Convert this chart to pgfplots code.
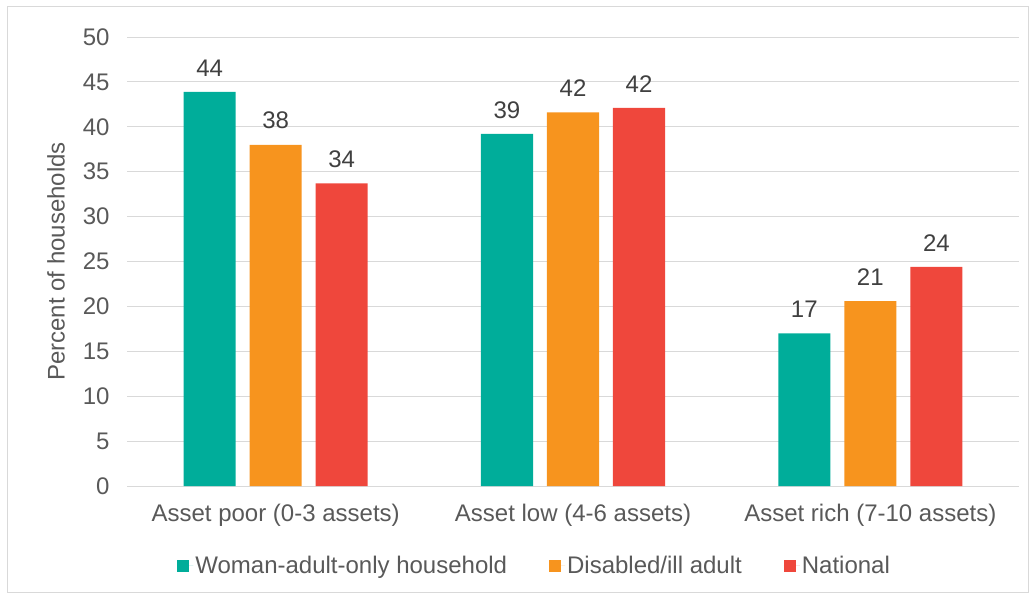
\documentclass[border=0pt]{standalone}
\usepackage{pgfplots}
\pgfplotsset{compat=1.18}
\usepackage{fontspec}
\setmainfont{Liberation Sans}
\definecolor{cteal}{RGB}{0,173,154}
\definecolor{corange}{RGB}{247,148,30}
\definecolor{cred}{RGB}{239,71,60}
\definecolor{ctext}{RGB}{89,89,89}
\definecolor{cval}{RGB}{64,64,64}
\definecolor{cgrid}{RGB}{217,217,217}
\begin{document}
\begin{tikzpicture}
\path (0pt,0pt) rectangle (1035pt,598pt);
\draw[cgrid, line width=1pt] (7pt,6pt) rectangle (1028pt,591pt);
\begin{axis}[
  at={(127pt,112pt)}, anchor=south west,
  scale only axis, width=892pt, height=449pt,
  xmin=-0.5, xmax=2.5, ymin=0, ymax=50,
  ytick={0,5,...,50},
  xtick={0,1,2},
  xticklabels={Asset poor (0-3 assets),Asset low (4-6 assets),Asset rich (7-10 assets)},
  major tick length=0pt,
  axis line style={draw=none},
  ymajorgrids, grid style={cgrid, line width=1pt},
  ticklabel style={font=\fontsize{24}{28}\selectfont, text=ctext},
  yticklabel style={xshift=-14pt},
  xticklabel style={yshift=-15pt},
  /pgf/number format/assume math mode=true,
  ylabel={Percent of households},
  ylabel style={font=\fontsize{24}{28}\selectfont, text=ctext, yshift=11pt},
  ybar,
  bar width=0.175,
  nodes near coords={\pgfmathprintnumber[fixed,precision=0]{\pgfplotspointmeta}},
  every node near coord/.append style={font=\fontsize{24}{28}\selectfont, text=cval, yshift=12pt},
  legend style={at={(axis description cs:0.457,-0.178)}, anchor=center, draw=none,
    legend columns=3, font=\fontsize{24}{28}\selectfont, text=ctext,
    /tikz/every even column/.append style={column sep=40pt}},
  legend image code/.code={\path (0pt,0pt) -- (16pt,0pt);\fill[#1] (0pt,-6pt) rectangle (12pt,6pt);},
]
\addplot[fill=cteal, draw=none, bar shift=-0.222] coordinates {(0,43.9) (1,39.2) (2,17.0)};
\addplot[fill=corange, draw=none, bar shift=0] coordinates {(0,38.0) (1,41.6) (2,20.6)};
\addplot[fill=cred, draw=none, bar shift=0.222] coordinates {(0,33.7) (1,42.1) (2,24.4)};
\legend{Woman-adult-only household, Disabled/ill adult, National}
\end{axis}
\end{tikzpicture}
\end{document}
